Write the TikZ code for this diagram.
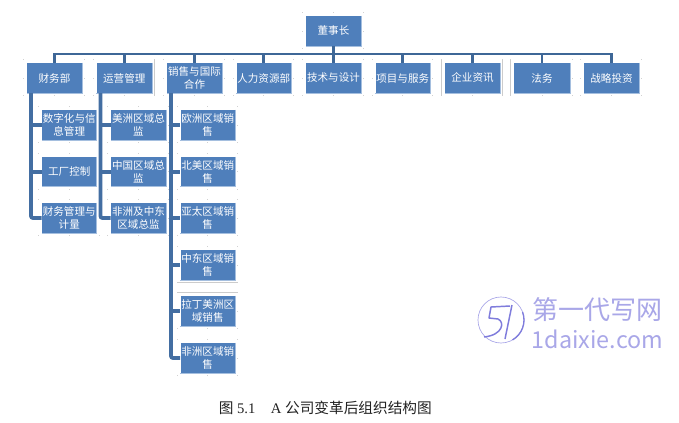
\documentclass[tikz,border=0pt]{standalone}
\usepackage{fontspec}
\setmainfont{Liberation Serif}
\newfontfamily\cjk{Noto Sans CJK SC}
\definecolor{boxblue}{HTML}{4F7FBB}
\definecolor{boxedge}{HTML}{A5BFDF}
\definecolor{barblue}{HTML}{3E6797}
\definecolor{wm}{HTML}{A9A7E8}
\definecolor{wmd}{HTML}{7F7CDC}
\definecolor{capcol}{HTML}{222222}
\tikzset{
  orgbox/.style={fill=boxblue,draw=none,text=white,inner sep=0pt,align=center,
    font=\cjk\fontsize{7.9}{10}\selectfont},
  conn/.style={draw=barblue,line width=2.1pt},
  trunk/.style={draw=barblue!70!boxblue,line width=2.8pt,rounded corners=1.5pt},
  handle/.style={fill=black!18,draw=none},
  frameline/.style={draw=black!20,line width=.5pt},
  edgeline/.style={draw=boxedge,line width=.5pt},
}
\newcommand{\ubox}[6]{\node[orgbox,minimum width={(#4-#2)*0.75pt},minimum height={(#5-#3)*0.75pt}] (#1) at ({(#2+#4)/2},{(#3+#5)/2}) {#6};}
\begin{document}
\begin{tikzpicture}[x=0.75pt,y=-0.75pt]
\useasboundingbox (0,0) rectangle (679,422);
\fill[white] (0,0) rectangle (679,422);
% boxes
\ubox{ceo}{306}{16}{361}{46}{董事长}
\ubox{da}{27}{63}{82}{93}{财务部}
\ubox{db}{96.5}{63}{152}{93}{运营管理}
\ubox{dc}{167}{63}{222}{93}{销售与国际\\合作}
\ubox{dd}{236.5}{63}{291}{93}{人力资源部}
\ubox{de}{306}{63}{361}{93}{技术与设计}
\ubox{df}{375.5}{63}{430}{93}{项目与服务}
\ubox{dg}{445}{63}{500}{93}{企业资讯}
\ubox{dh}{514}{63}{570}{93}{法务}
\ubox{di}{584}{63}{639}{93}{战略投资}
\ubox{aa}{42}{110}{96.5}{140}{数字化与信\\息管理}
\ubox{ab}{42}{157}{96.5}{186.5}{工厂控制}
\ubox{ac}{42}{203}{96.5}{233}{财务管理与\\计量}
\ubox{ba}{111}{110}{166}{140}{美洲区域总\\监}
\ubox{bb}{111}{157}{166}{186.5}{中国区域总\\监}
\ubox{bc}{111}{203}{166}{233}{非洲及中东\\区域总监}
\ubox{ca}{180.5}{110}{235}{140}{欧洲区域销\\售}
\ubox{cb}{180.5}{157}{235}{186.5}{北美区域销\\售}
\ubox{cc}{180.5}{203}{235}{233}{亚太区域销\\售}
\ubox{cd}{180.5}{250}{235}{280}{中东区域销\\售}
\ubox{ce}{180.5}{296}{235}{326}{拉丁美洲区\\域销售}
\ubox{cf}{180.5}{343}{235}{373}{非洲区域销\\售}
% selection handles and pale right/bottom edges
\foreach \n in {ceo,da,db,dc,dd,de,df,dg,dh,di,aa,ab,ac,ba,bb,bc,ca,cb,cc,cd,ce,cf}{
  \draw[edgeline] (\n.north east) -- (\n.south east) -- (\n.south west);
  \foreach \a/\dx/\dy in {north west/-3/-3,north/0/-3,north east/2.5/-3,west/-3/0,east/2.5/0,south west/-3/2.5,south/0/2.5,south east/2.5/2.5}{
    \fill[handle] ([shift={(\dx-.4,\dy-.4)}]\n.\a) rectangle ++(.9,.9);
  }
}
% pale frame lines
\draw[frameline] ([shift={(2.5,-3)}]db.north east) -- ([shift={(2.5,2.5)}]db.south east);
\draw[frameline] ([shift={(-3,2.5)}]dg.south west) -- ([shift={(-3,-3)}]dg.north west);
\draw[frameline] ([shift={(2.5,-3)}]dg.north east) -- ([shift={(2.5,2.5)}]dg.south east);
\draw[frameline] ([shift={(-3,2.5)}]dh.south west) -- ([shift={(-3,-3)}]dh.north west);
\draw[frameline] ([shift={(-3,2.5)}]cd.south west) -- ([shift={(2.5,2.5)}]cd.south east);
\draw[frameline] ([shift={(-3,-3)}]ce.north west) -- ([shift={(2.5,-3)}]ce.north east);
% connectors
\coordinate (bus) at (333.5,54);
\draw[conn] (ceo.south) -- (bus);
\draw[conn] (da.north) |- (bus);
\draw[conn] (di.north) |- (bus);
\foreach \n in {db,dc,dd,de,df,dg,dh}{\draw[conn] (\n.north) -- (\n.north |- bus);}
\coordinate (va) at (31,93);
\coordinate (vb) at (100.5,93);
\coordinate (vc) at (171,93);
\draw[trunk] (va) |- (ac.west);
\draw[trunk] (vb) |- (bc.west);
\draw[trunk] (vc) |- (cf.west);
\foreach \v/\n in {va/aa,va/ab,vb/ba,vb/bb,vc/ca,vc/cb,vc/cc,vc/cd,vc/ce}{\draw[trunk] (\v |- \n.west) -- (\n.west);}
% caption
\node[anchor=west,inner sep=0pt,text=capcol,font=\fontsize{11}{13}\selectfont] (cap) at (218.5,408) {{\cjk 图} 5.1\hspace{1.05em}A {\cjk 公司变革后组织结构图}};
% watermark
\coordinate (wc) at (501,320);
\draw[wm,line width=.5pt] (wc) circle (23);
\draw[wmd,line width=1pt] (wc) ++(-20:23) arc (-20:60:23);
\draw[wmd,line width=1.1pt,line join=round] (510,306) -- (491,307) -- (489,318) -- (498,319) .. controls (505,322) and (503,335) .. (484,337);
\draw[wmd,line width=1.1pt] (512,305) -- (505,339);
\node[text=wm,inner sep=0pt,font=\cjk\fontsize{19.5}{22}\selectfont] (wma) at (597.5,310) {第一代写网};
\node[text=wm,inner sep=0pt,font=\cjk\fontsize{17.5}{20}\selectfont] (wmb) at (597.5,339) {1daixie.com};
\end{tikzpicture}
\end{document}
